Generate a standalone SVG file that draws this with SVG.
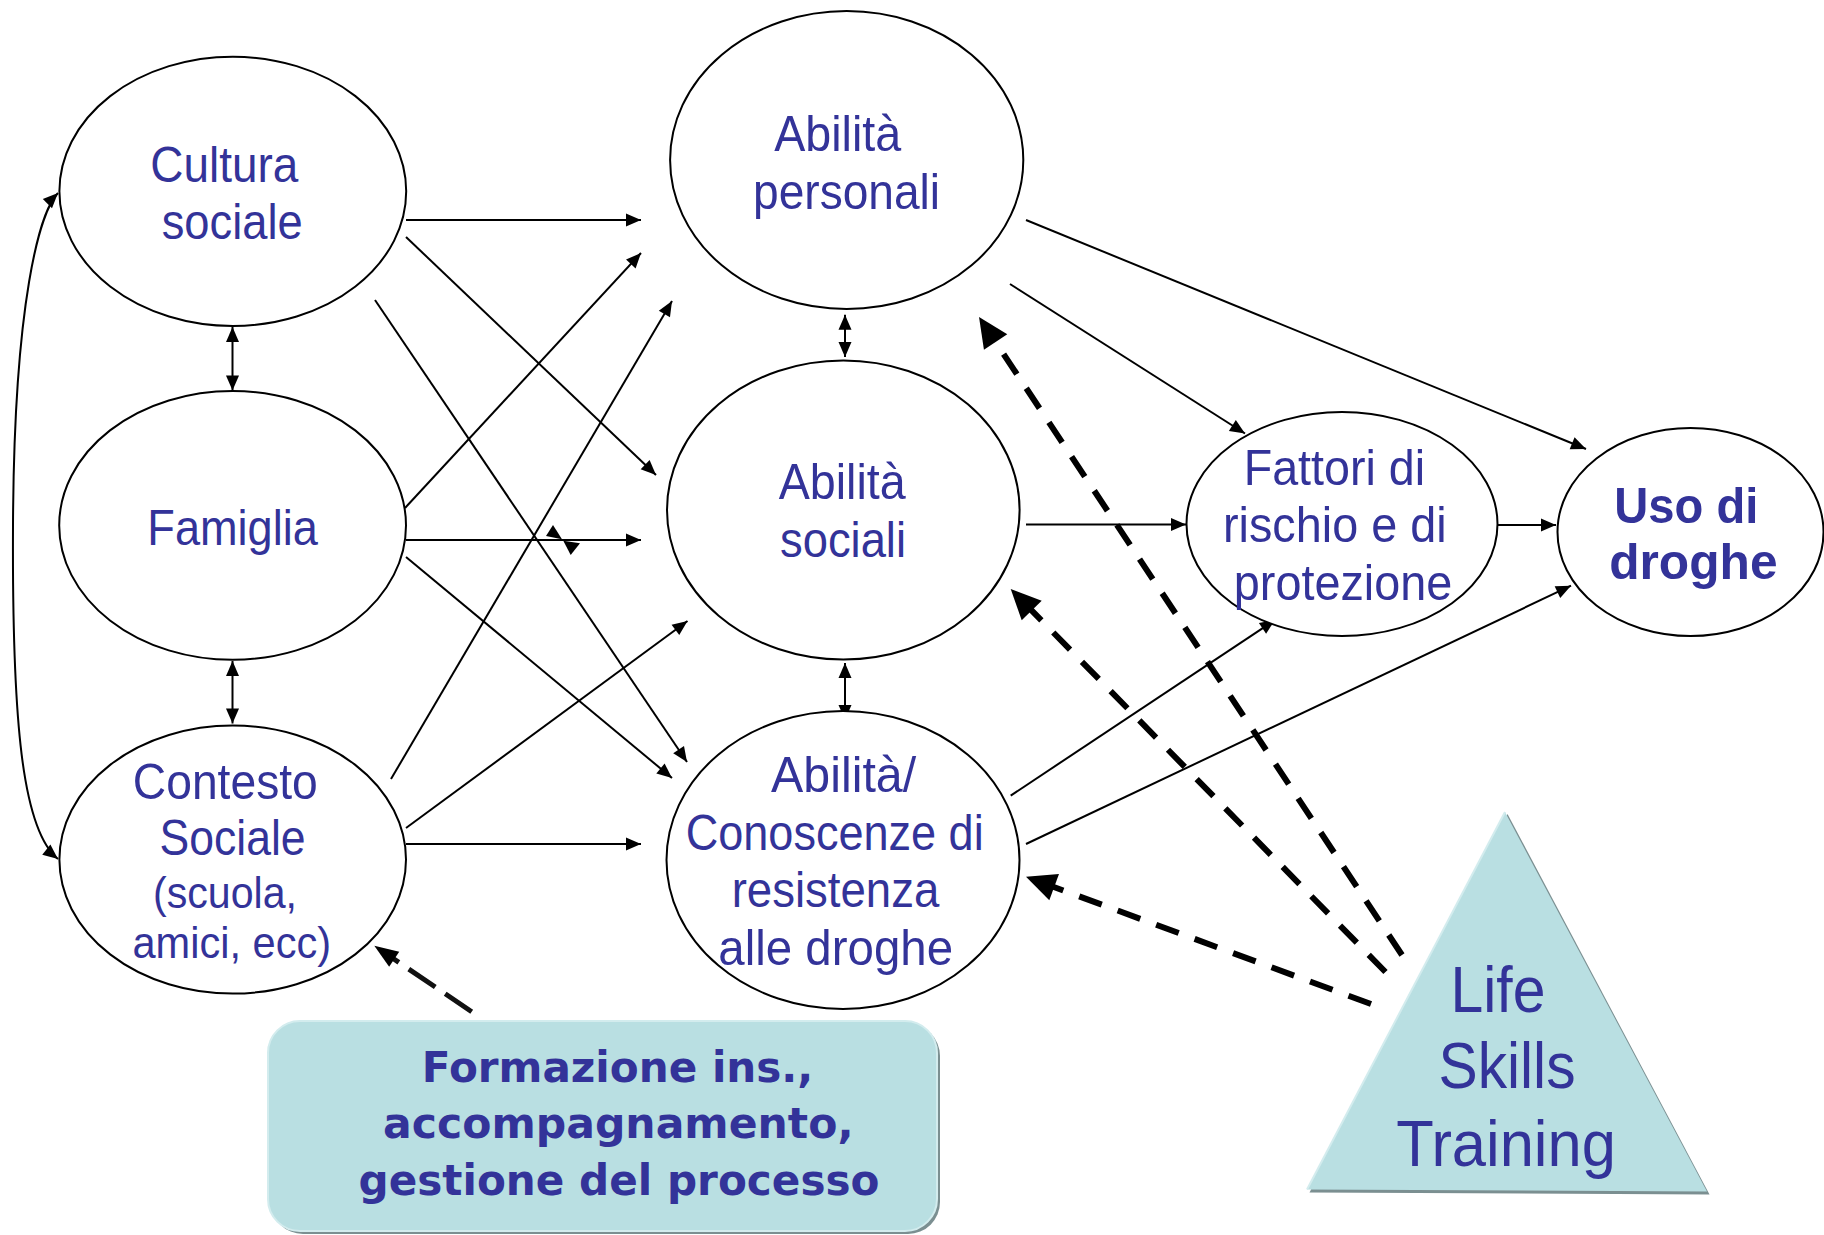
<svg xmlns="http://www.w3.org/2000/svg" width="1824" height="1235" viewBox="0 0 1824 1235">
<style>
.node ellipse{fill:#fff;stroke:#000;stroke-width:2}
.t{font-family:"Liberation Sans",Arial,sans-serif;font-size:50px;fill:#333399;text-anchor:middle}
.ts{font-size:44px}
.tl{font-size:65px}
.b{font-family:"Liberation Sans",Arial,sans-serif;font-weight:bold;font-size:50px;fill:#333399;text-anchor:middle}
.bv{font-family:"DejaVu Sans",Verdana,sans-serif;font-weight:bold;font-size:43px;fill:#333399;text-anchor:middle}
.c{fill:none;stroke:#000;stroke-width:2}
.a{marker-end:url(#ah)}
.d{marker-start:url(#ah);marker-end:url(#ah)}
.dash{fill:none;stroke:#000;stroke-width:6;stroke-dasharray:24 17;marker-end:url(#big)}
</style>
<defs>
<marker id="ah" markerUnits="userSpaceOnUse" markerWidth="16" markerHeight="14" refX="15" refY="6.5" orient="auto-start-reverse" overflow="visible"><path d="M0,0 L15,6.5 L0,13 z" fill="#000"/></marker>
<marker id="big" markerUnits="userSpaceOnUse" markerWidth="32" markerHeight="30" refX="4" refY="14" orient="auto" overflow="visible"><path d="M0,0 L30,14 L0,28 z" fill="#000"/></marker>
<marker id="mid" markerUnits="userSpaceOnUse" markerWidth="26" markerHeight="20" refX="3" refY="9" orient="auto" overflow="visible"><path d="M0,0 L24,9 L0,18 z" fill="#000"/></marker>
</defs>
<rect width="1824" height="1235" fill="#fff"/>

<g id="connectors">
<line class="c a" x1="406" y1="220" x2="641" y2="220"/>
<line class="c a" x1="406" y1="237" x2="656" y2="475"/>
<line class="c a" x1="375" y1="300" x2="687" y2="762"/>
<line class="c a" x1="405" y1="508" x2="641" y2="253"/>
<line class="c a" x1="406" y1="540" x2="641" y2="540"/>
<line class="c a" x1="406" y1="557" x2="672" y2="778"/>
<line class="c a" x1="391" y1="779" x2="672" y2="301"/>
<line class="c a" x1="406" y1="828" x2="687.5" y2="621"/>
<line class="c a" x1="406" y1="844" x2="641" y2="844"/>
<line class="c a" x1="1026" y1="220" x2="1586" y2="449"/>
<line class="c a" x1="1010" y1="284" x2="1245" y2="433.5"/>
<line class="c a" x1="1026" y1="524.5" x2="1186" y2="524.5"/>
<line class="c a" x1="1010.7" y1="795.6" x2="1275" y2="620"/>
<line class="c a" x1="1026" y1="844" x2="1571" y2="585.7"/>
<line class="c a" x1="1498" y1="525" x2="1556" y2="525"/>
<line class="c d" x1="232.5" y1="327" x2="232.5" y2="390.5"/>
<line class="c d" x1="232.5" y1="661" x2="232.5" y2="723.5"/>
<line class="c d" x1="845" y1="314.7" x2="845" y2="357"/>
<line class="c d" x1="845" y1="663" x2="845" y2="720"/>
<path class="c d" d="M58,193 C40,211 14,300 13,526 C12,720 22,830 58,859"/>
<polygon points="553,525 546,536 562,539.3" fill="#000"/>
<polygon points="563.3,540.7 580,543.3 570.7,555" fill="#000"/>
<line class="dash" x1="1402" y1="955" x2="993.4" y2="338.7"/>
<line class="dash" x1="1385.5" y1="972" x2="1028.9" y2="607.6"/>
<line class="dash" x1="1371" y1="1004" x2="1050.4" y2="885.7"/>
<line x1="471.7" y1="1011.7" x2="391.7" y2="957.5" fill="none" stroke="#111" stroke-width="5" stroke-dasharray="32 12" marker-end="url(#mid)"/>
</g>

<g id="cultura" class="node">
<ellipse cx="232.8" cy="191.3" rx="173.4" ry="134.6"/>
<text class="t" x="224.3" y="182" textLength="148" lengthAdjust="spacingAndGlyphs">Cultura</text>
<text class="t" x="232.2" y="239" textLength="141" lengthAdjust="spacingAndGlyphs">sociale</text>
</g>
<g id="famiglia" class="node">
<ellipse cx="232.6" cy="525.4" rx="173.4" ry="134.4"/>
<text class="t" x="232.6" y="544.6" textLength="170.5" lengthAdjust="spacingAndGlyphs">Famiglia</text>
</g>
<g id="contesto" class="node">
<ellipse cx="232.7" cy="859.6" rx="173.3" ry="134"/>
<text class="t" x="225.3" y="798.5" textLength="185" lengthAdjust="spacingAndGlyphs">Contesto</text>
<text class="t" x="232.6" y="855" textLength="146" lengthAdjust="spacingAndGlyphs">Sociale</text>
<text class="t ts" x="225" y="907.8" textLength="144" lengthAdjust="spacingAndGlyphs">(scuola,</text>
<text class="t ts" x="231.8" y="958.4" textLength="198.6" lengthAdjust="spacingAndGlyphs">amici, ecc)</text>
</g>
<g id="abilita-personali" class="node">
<ellipse cx="846.7" cy="160" rx="176.6" ry="149"/>
<text class="t" x="837.7" y="151" textLength="127" lengthAdjust="spacingAndGlyphs">Abilità</text>
<text class="t" x="846.6" y="209" textLength="187" lengthAdjust="spacingAndGlyphs">personali</text>
</g>
<g id="abilita-sociali" class="node">
<ellipse cx="843.3" cy="510" rx="176.3" ry="149.5"/>
<text class="t" x="842.2" y="498.7" textLength="127" lengthAdjust="spacingAndGlyphs">Abilità</text>
<text class="t" x="843" y="557" textLength="126" lengthAdjust="spacingAndGlyphs">sociali</text>
</g>
<g id="abilita-conoscenze" class="node">
<ellipse cx="843" cy="860" rx="176.5" ry="149"/>
<text class="t" x="843.6" y="792.4" textLength="145" lengthAdjust="spacingAndGlyphs">Abilità/</text>
<text class="t" x="834.7" y="850" textLength="298" lengthAdjust="spacingAndGlyphs">Conoscenze di</text>
<text class="t" x="835.5" y="906.6" textLength="207.7" lengthAdjust="spacingAndGlyphs">resistenza</text>
<text class="t" x="835.7" y="964.5" textLength="234.7" lengthAdjust="spacingAndGlyphs">alle droghe</text>
</g>
<g id="fattori" class="node">
<ellipse cx="1342" cy="524" rx="155.5" ry="112"/>
<text class="t" x="1334.4" y="485" textLength="181.4" lengthAdjust="spacingAndGlyphs">Fattori di</text>
<text class="t" x="1334.8" y="542" textLength="223.6" lengthAdjust="spacingAndGlyphs">rischio e di</text>
<text class="t" x="1343" y="600" textLength="218.4" lengthAdjust="spacingAndGlyphs">protezione</text>
</g>
<g id="uso-droghe" class="node">
<ellipse cx="1690.5" cy="532" rx="133" ry="104"/>
<text class="b" x="1686.3" y="522.7" textLength="144" lengthAdjust="spacingAndGlyphs">Uso di</text>
<text class="b" x="1693.4" y="579" textLength="168.5" lengthAdjust="spacingAndGlyphs">droghe</text>
</g>
<g id="formazione">
<rect x="271" y="1024" width="669" height="210" rx="32" fill="#7b8f91"/>
<rect x="268" y="1021" width="669" height="210" rx="32" fill="#b9dfe2" stroke="#d3ecee" stroke-width="2"/>
<text class="bv" x="617.6" y="1081.7" textLength="391.5" lengthAdjust="spacingAndGlyphs">Formazione ins.,</text>
<text class="bv" x="618.3" y="1138" textLength="470.5" lengthAdjust="spacingAndGlyphs">accompagnamento,</text>
<text class="bv" x="619" y="1195" textLength="521" lengthAdjust="spacingAndGlyphs">gestione del processo</text>
</g>
<g id="life-skills">
<polygon points="1507.5,814 1709.5,1194.5 1309.5,1192.5" fill="#7b8f91"/>
<polygon points="1505,812 1707,1191.5 1307,1189.5" fill="#b9dfe2"/>
<line x1="1505" y1="812" x2="1307" y2="1189.5" stroke="#d3ecee" stroke-width="2"/>
<text class="t tl" x="1498" y="1011.7" textLength="95" lengthAdjust="spacingAndGlyphs">Life</text>
<text class="t tl" x="1507" y="1088" textLength="137" lengthAdjust="spacingAndGlyphs">Skills</text>
<text class="t tl" x="1506" y="1166" textLength="219.6" lengthAdjust="spacingAndGlyphs">Training</text>
</g>
</svg>
